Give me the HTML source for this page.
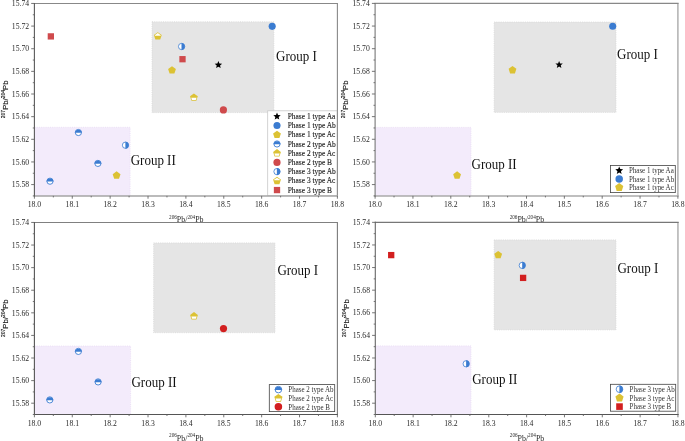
<!DOCTYPE html><html><head><meta charset="utf-8"><title>Pb isotope plots</title><style>
html,body{margin:0;padding:0;background:#fff;}
body{width:685px;height:441px;overflow:hidden;}
svg{display:block;will-change:transform;}
text{font-family:"Liberation Serif",serif;fill:#2a2a2a;}
.tk{font-size:7.7px;}
.grp{font-size:13px;fill:#111;}
.lg{fill:#333;}
.xl{font-size:7.9px;}
.xl .sup{font-size:5.2px;}
.yl{font-family:"Liberation Sans",sans-serif;font-size:7.7px;fill:#1a1a1a;stroke:#1a1a1a;stroke-width:0.15px;}
.yl .ysup{font-size:5px;}
</style></head><body><svg width="685" height="441" viewBox="0 0 685 441"><rect width="685" height="441" fill="#fff"/><clipPath id="clip0"><rect x="34.4" y="3.45" width="303" height="192.45"/></clipPath><rect x="152" y="21.8" width="121.9" height="90.8" fill="#e5e5e5"/><rect x="152" y="21.8" width="121.9" height="90.8" fill="none" stroke="#d6d6d6" stroke-width="0.7" stroke-dasharray="1 1.2"/><g clip-path="url(#clip0)"><rect x="32.4" y="127.3" width="97.7" height="70.6" fill="#f3ebfb"/><rect x="32.4" y="127.3" width="97.7" height="70.6" fill="none" stroke="#e6d8f2" stroke-width="0.7" stroke-dasharray="1 1.2"/></g><text transform="translate(276.1 60.6) scale(1 1.09)" class="grp">Group I</text><text transform="translate(130.7 165.2) scale(1 1.09)" class="grp">Group II</text><rect x="47.7" y="33.25" width="6.3" height="6.3" fill="#cf4a4c"/><path d="M157.8 32.2 L161.7 35.03 L160.21 39.62 L155.39 39.62 L153.9 35.03Z" fill="#dcc234"/><clipPath id="pc1"><rect x="153.7" y="28.1" width="8.2" height="7.7"/></clipPath><path d="M157.8 33.1 L160.84 35.31 L159.68 38.89 L155.92 38.89 L154.76 35.31Z" fill="#fff" clip-path="url(#pc1)"/><circle cx="181.6" cy="46.5" r="3.15" fill="#fff" stroke="#3b7cd1" stroke-width="0.8"/><path d="M181.5 42.96 A3.55 3.55 0 0 1 181.5 50.04 Z" fill="#3b7cd1"/><rect x="179.35" y="56.05" width="6.3" height="6.3" fill="#cf4a4c"/><path d="M172 66.2 L175.9 69.03 L174.41 73.62 L169.59 73.62 L168.1 69.03Z" fill="#dcc234"/><path d="M218.4 61 L219.43 63.48 L222.11 63.69 L220.06 65.44 L220.69 68.06 L218.4 66.65 L216.11 68.06 L216.74 65.44 L214.69 63.69 L217.37 63.48Z" fill="#000"/><circle cx="272.2" cy="26.35" r="3.55" fill="#3b7cd1"/><path d="M193.9 93.4 L197.8 96.23 L196.31 100.82 L191.49 100.82 L190 96.23Z" fill="#dcc234"/><clipPath id="pc2"><rect x="189.8" y="97.8" width="8.2" height="8.2"/></clipPath><path d="M193.9 94.3 L196.94 96.51 L195.78 100.09 L192.02 100.09 L190.86 96.51Z" fill="#fff" clip-path="url(#pc2)"/><circle cx="223.4" cy="109.9" r="3.6" fill="#cf4a4c"/><circle cx="78.4" cy="132.5" r="3.1" fill="#fff" stroke="#3b7cd1" stroke-width="0.9"/><path d="M74.89 132.85 A3.55 3.55 0 0 1 81.91 132.85 Z" fill="#3b7cd1"/><circle cx="97.9" cy="163.4" r="3.1" fill="#fff" stroke="#3b7cd1" stroke-width="0.9"/><path d="M94.39 163.75 A3.55 3.55 0 0 1 101.41 163.75 Z" fill="#3b7cd1"/><circle cx="50" cy="181.2" r="3.1" fill="#fff" stroke="#3b7cd1" stroke-width="0.9"/><path d="M46.49 181.55 A3.55 3.55 0 0 1 53.51 181.55 Z" fill="#3b7cd1"/><circle cx="125.5" cy="145.2" r="3.15" fill="#fff" stroke="#3b7cd1" stroke-width="0.8"/><path d="M125.4 141.66 A3.55 3.55 0 0 1 125.4 148.74 Z" fill="#3b7cd1"/><path d="M116.6 171.3 L120.5 174.13 L119.01 178.72 L114.19 178.72 L112.7 174.13Z" fill="#dcc234"/><g clip-path="url(#clip0)"><rect x="267.7" y="110.8" width="69.6" height="85" fill="#fff" stroke="#c8c8c8" stroke-width="0.8"/><path d="M277 112.5 L278.03 114.98 L280.71 115.19 L278.66 116.94 L279.29 119.56 L277 118.15 L274.71 119.56 L275.34 116.94 L273.29 115.19 L275.97 114.98Z" fill="#000"/><text transform="translate(287.7 118.91) scale(1 1.06)" class="lg" style="font-size:7.45px;stroke:#222;stroke-width:0.12px;fill:#222">Phase 1 type Aa</text><circle cx="277" cy="125.52" r="3.55" fill="#3b7cd1"/><text transform="translate(287.7 128.13) scale(1 1.06)" class="lg" style="font-size:7.45px;stroke:#222;stroke-width:0.12px;fill:#222">Phase 1 type Ab</text><path d="M277 130.64 L280.9 133.47 L279.41 138.06 L274.59 138.06 L273.1 133.47Z" fill="#dcc234"/><text transform="translate(287.7 137.35) scale(1 1.06)" class="lg" style="font-size:7.45px;stroke:#222;stroke-width:0.12px;fill:#222">Phase 1 type Ac</text><circle cx="277" cy="143.96" r="3.1" fill="#fff" stroke="#3b7cd1" stroke-width="0.9"/><path d="M273.49 144.31 A3.55 3.55 0 0 1 280.51 144.31 Z" fill="#3b7cd1"/><text transform="translate(287.7 146.57) scale(1 1.06)" class="lg" style="font-size:7.45px;stroke:#222;stroke-width:0.12px;fill:#222">Phase 2 type Ab</text><path d="M277 149.08 L280.9 151.91 L279.41 156.5 L274.59 156.5 L273.1 151.91Z" fill="#dcc234"/><clipPath id="pc3"><rect x="272.9" y="153.48" width="8.2" height="8.2"/></clipPath><path d="M277 149.98 L280.04 152.19 L278.88 155.77 L275.12 155.77 L273.96 152.19Z" fill="#fff" clip-path="url(#pc3)"/><text transform="translate(287.7 155.79) scale(1 1.06)" class="lg" style="font-size:7.45px;stroke:#222;stroke-width:0.12px;fill:#222">Phase 2 type Ac</text><circle cx="277" cy="162.4" r="3.6" fill="#cf4a4c"/><text transform="translate(287.7 165.01) scale(1 1.06)" class="lg" style="font-size:7.45px;stroke:#222;stroke-width:0.12px;fill:#222">Phase 2 type B</text><circle cx="277" cy="171.62" r="3.15" fill="#fff" stroke="#3b7cd1" stroke-width="0.8"/><path d="M276.9 168.08 A3.55 3.55 0 0 1 276.9 175.16 Z" fill="#3b7cd1"/><text transform="translate(287.7 174.23) scale(1 1.06)" class="lg" style="font-size:7.45px;stroke:#222;stroke-width:0.12px;fill:#222">Phase 3 type Ab</text><path d="M277 176.74 L280.9 179.57 L279.41 184.16 L274.59 184.16 L273.1 179.57Z" fill="#dcc234"/><clipPath id="pc4"><rect x="272.9" y="172.64" width="8.2" height="7.7"/></clipPath><path d="M277 177.64 L280.04 179.85 L278.88 183.43 L275.12 183.43 L273.96 179.85Z" fill="#fff" clip-path="url(#pc4)"/><text transform="translate(287.7 183.45) scale(1 1.06)" class="lg" style="font-size:7.45px;stroke:#222;stroke-width:0.12px;fill:#222">Phase 3 type Ac</text><rect x="273.85" y="186.91" width="6.3" height="6.3" fill="#cf4a4c"/><text transform="translate(287.7 192.67) scale(1 1.06)" class="lg" style="font-size:7.45px;stroke:#222;stroke-width:0.12px;fill:#222">Phase 3 type B</text></g><line x1="337.4" y1="3.45" x2="337.4" y2="195.9" stroke="#888" stroke-width="1.1"/><line x1="33.9" y1="3.45" x2="337.95" y2="3.45" stroke="#888" stroke-width="1.1"/><line x1="33.9" y1="195.9" x2="337.95" y2="195.9" stroke="#a5a5a5" stroke-width="1.5"/><line x1="34.4" y1="2.95" x2="34.4" y2="196.4" stroke="#5a5a5a" stroke-width="1.1"/><line x1="34.4" y1="195.9" x2="34.4" y2="198.7" stroke="#666666" stroke-width="0.9"/><text x="34.4" y="207.2" class="tk" text-anchor="middle">18.0</text><line x1="53.34" y1="195.9" x2="53.34" y2="197.4" stroke="#666666" stroke-width="0.9"/><line x1="72.28" y1="195.9" x2="72.28" y2="198.7" stroke="#666666" stroke-width="0.9"/><text x="72.28" y="207.2" class="tk" text-anchor="middle">18.1</text><line x1="91.21" y1="195.9" x2="91.21" y2="197.4" stroke="#666666" stroke-width="0.9"/><line x1="110.15" y1="195.9" x2="110.15" y2="198.7" stroke="#666666" stroke-width="0.9"/><text x="110.15" y="207.2" class="tk" text-anchor="middle">18.2</text><line x1="129.09" y1="195.9" x2="129.09" y2="197.4" stroke="#666666" stroke-width="0.9"/><line x1="148.03" y1="195.9" x2="148.03" y2="198.7" stroke="#666666" stroke-width="0.9"/><text x="148.03" y="207.2" class="tk" text-anchor="middle">18.3</text><line x1="166.96" y1="195.9" x2="166.96" y2="197.4" stroke="#666666" stroke-width="0.9"/><line x1="185.9" y1="195.9" x2="185.9" y2="198.7" stroke="#666666" stroke-width="0.9"/><text x="185.9" y="207.2" class="tk" text-anchor="middle">18.4</text><line x1="204.84" y1="195.9" x2="204.84" y2="197.4" stroke="#666666" stroke-width="0.9"/><line x1="223.78" y1="195.9" x2="223.78" y2="198.7" stroke="#666666" stroke-width="0.9"/><text x="223.78" y="207.2" class="tk" text-anchor="middle">18.5</text><line x1="242.71" y1="195.9" x2="242.71" y2="197.4" stroke="#666666" stroke-width="0.9"/><line x1="261.65" y1="195.9" x2="261.65" y2="198.7" stroke="#666666" stroke-width="0.9"/><text x="261.65" y="207.2" class="tk" text-anchor="middle">18.6</text><line x1="280.59" y1="195.9" x2="280.59" y2="197.4" stroke="#666666" stroke-width="0.9"/><line x1="299.52" y1="195.9" x2="299.52" y2="198.7" stroke="#666666" stroke-width="0.9"/><text x="299.52" y="207.2" class="tk" text-anchor="middle">18.7</text><line x1="318.46" y1="195.9" x2="318.46" y2="197.4" stroke="#666666" stroke-width="0.9"/><line x1="337.4" y1="195.9" x2="337.4" y2="198.7" stroke="#666666" stroke-width="0.9"/><text x="337.4" y="207.2" class="tk" text-anchor="middle">18.8</text><line x1="32.8" y1="195.9" x2="34.4" y2="195.9" stroke="#666666" stroke-width="0.9"/><line x1="31.2" y1="184.58" x2="34.4" y2="184.58" stroke="#666666" stroke-width="0.9"/><text x="29.1" y="187.28" class="tk" text-anchor="end">15.58</text><line x1="32.8" y1="173.26" x2="34.4" y2="173.26" stroke="#666666" stroke-width="0.9"/><line x1="31.2" y1="161.94" x2="34.4" y2="161.94" stroke="#666666" stroke-width="0.9"/><text x="29.1" y="164.64" class="tk" text-anchor="end">15.60</text><line x1="32.8" y1="150.62" x2="34.4" y2="150.62" stroke="#666666" stroke-width="0.9"/><line x1="31.2" y1="139.3" x2="34.4" y2="139.3" stroke="#666666" stroke-width="0.9"/><text x="29.1" y="142" class="tk" text-anchor="end">15.62</text><line x1="32.8" y1="127.98" x2="34.4" y2="127.98" stroke="#666666" stroke-width="0.9"/><line x1="31.2" y1="116.66" x2="34.4" y2="116.66" stroke="#666666" stroke-width="0.9"/><text x="29.1" y="119.36" class="tk" text-anchor="end">15.64</text><line x1="32.8" y1="105.34" x2="34.4" y2="105.34" stroke="#666666" stroke-width="0.9"/><line x1="31.2" y1="94.01" x2="34.4" y2="94.01" stroke="#666666" stroke-width="0.9"/><text x="29.1" y="96.71" class="tk" text-anchor="end">15.66</text><line x1="32.8" y1="82.69" x2="34.4" y2="82.69" stroke="#666666" stroke-width="0.9"/><line x1="31.2" y1="71.37" x2="34.4" y2="71.37" stroke="#666666" stroke-width="0.9"/><text x="29.1" y="74.07" class="tk" text-anchor="end">15.68</text><line x1="32.8" y1="60.05" x2="34.4" y2="60.05" stroke="#666666" stroke-width="0.9"/><line x1="31.2" y1="48.73" x2="34.4" y2="48.73" stroke="#666666" stroke-width="0.9"/><text x="29.1" y="51.43" class="tk" text-anchor="end">15.70</text><line x1="32.8" y1="37.41" x2="34.4" y2="37.41" stroke="#666666" stroke-width="0.9"/><line x1="31.2" y1="26.09" x2="34.4" y2="26.09" stroke="#666666" stroke-width="0.9"/><text x="29.1" y="28.79" class="tk" text-anchor="end">15.72</text><line x1="32.8" y1="14.77" x2="34.4" y2="14.77" stroke="#666666" stroke-width="0.9"/><line x1="31.2" y1="3.45" x2="34.4" y2="3.45" stroke="#666666" stroke-width="0.9"/><text x="29.1" y="6.15" class="tk" text-anchor="end">15.74</text><text x="186.3" y="221.9" class="xl" text-anchor="middle"><tspan class="sup" dy="-3.2">206</tspan><tspan dy="3.2">Pb/</tspan><tspan class="sup" dy="-3.2">204</tspan><tspan dy="3.2">Pb</tspan></text><text transform="translate(7.75 99.38) rotate(-90)" class="yl" text-anchor="middle"><tspan class="ysup" dy="-3">207</tspan><tspan dy="3">Pb/</tspan><tspan class="ysup" dy="-3">204</tspan><tspan dy="3">Pb</tspan></text><clipPath id="clip1"><rect x="375.1" y="3.4" width="302.8" height="192.5"/></clipPath><rect x="494.1" y="22" width="121.9" height="90.4" fill="#e5e5e5"/><rect x="494.1" y="22" width="121.9" height="90.4" fill="none" stroke="#d6d6d6" stroke-width="0.7" stroke-dasharray="1 1.2"/><g clip-path="url(#clip1)"><rect x="373.1" y="127.4" width="97.9" height="70.5" fill="#f3ebfb"/><rect x="373.1" y="127.4" width="97.9" height="70.5" fill="none" stroke="#e6d8f2" stroke-width="0.7" stroke-dasharray="1 1.2"/></g><text transform="translate(617 59.3) scale(1 1.05)" class="grp">Group I</text><text transform="translate(471.6 168.8) scale(1 1.05)" class="grp">Group II</text><path d="M559.1 60.9 L560.13 63.38 L562.81 63.59 L560.76 65.34 L561.39 67.96 L559.1 66.55 L556.81 67.96 L557.44 65.34 L555.39 63.59 L558.07 63.38Z" fill="#000"/><circle cx="612.7" cy="26.3" r="3.55" fill="#3b7cd1"/><path d="M512.5 66 L516.4 68.83 L514.91 73.42 L510.09 73.42 L508.6 68.83Z" fill="#dcc234"/><path d="M457.1 171.3 L461 174.13 L459.51 178.72 L454.69 178.72 L453.2 174.13Z" fill="#dcc234"/><g clip-path="url(#clip1)"><rect x="610.5" y="165.5" width="64.8" height="27.1" fill="#fff" stroke="#444444" stroke-width="0.8"/><path d="M619.2 166.5 L620.28 169.11 L623.09 169.33 L620.95 171.17 L621.61 173.91 L619.2 172.44 L616.79 173.91 L617.45 171.17 L615.31 169.33 L618.12 169.11Z" fill="#000"/><text transform="translate(628.9 173.27) scale(1 1.2)" class="lg" style="font-size:7px;">Phase 1 type Aa</text><circle cx="619.2" cy="178.95" r="3.73" fill="#3b7cd1"/><text transform="translate(628.9 181.72) scale(1 1.2)" class="lg" style="font-size:7px;">Phase 1 type Ab</text><path d="M619.2 183.09 L623.29 186.07 L621.73 190.88 L616.67 190.88 L615.11 186.07Z" fill="#dcc234"/><text transform="translate(628.9 190.17) scale(1 1.2)" class="lg" style="font-size:7px;">Phase 1 type Ac</text></g><line x1="677.9" y1="3.4" x2="677.9" y2="195.9" stroke="#b0b0b0" stroke-width="1.5"/><line x1="374.6" y1="3.4" x2="678.65" y2="3.4" stroke="#888" stroke-width="1.1"/><line x1="374.6" y1="195.9" x2="678.65" y2="195.9" stroke="#aaa" stroke-width="1.5"/><line x1="375.1" y1="2.9" x2="375.1" y2="196.4" stroke="#777" stroke-width="1.1"/><line x1="375.1" y1="195.9" x2="375.1" y2="198.7" stroke="#666666" stroke-width="0.9"/><text x="375.1" y="207.2" class="tk" text-anchor="middle">18.0</text><line x1="394.03" y1="195.9" x2="394.03" y2="197.4" stroke="#666666" stroke-width="0.9"/><line x1="412.95" y1="195.9" x2="412.95" y2="198.7" stroke="#666666" stroke-width="0.9"/><text x="412.95" y="207.2" class="tk" text-anchor="middle">18.1</text><line x1="431.87" y1="195.9" x2="431.87" y2="197.4" stroke="#666666" stroke-width="0.9"/><line x1="450.8" y1="195.9" x2="450.8" y2="198.7" stroke="#666666" stroke-width="0.9"/><text x="450.8" y="207.2" class="tk" text-anchor="middle">18.2</text><line x1="469.73" y1="195.9" x2="469.73" y2="197.4" stroke="#666666" stroke-width="0.9"/><line x1="488.65" y1="195.9" x2="488.65" y2="198.7" stroke="#666666" stroke-width="0.9"/><text x="488.65" y="207.2" class="tk" text-anchor="middle">18.3</text><line x1="507.58" y1="195.9" x2="507.58" y2="197.4" stroke="#666666" stroke-width="0.9"/><line x1="526.5" y1="195.9" x2="526.5" y2="198.7" stroke="#666666" stroke-width="0.9"/><text x="526.5" y="207.2" class="tk" text-anchor="middle">18.4</text><line x1="545.42" y1="195.9" x2="545.42" y2="197.4" stroke="#666666" stroke-width="0.9"/><line x1="564.35" y1="195.9" x2="564.35" y2="198.7" stroke="#666666" stroke-width="0.9"/><text x="564.35" y="207.2" class="tk" text-anchor="middle">18.5</text><line x1="583.28" y1="195.9" x2="583.28" y2="197.4" stroke="#666666" stroke-width="0.9"/><line x1="602.2" y1="195.9" x2="602.2" y2="198.7" stroke="#666666" stroke-width="0.9"/><text x="602.2" y="207.2" class="tk" text-anchor="middle">18.6</text><line x1="621.12" y1="195.9" x2="621.12" y2="197.4" stroke="#666666" stroke-width="0.9"/><line x1="640.05" y1="195.9" x2="640.05" y2="198.7" stroke="#666666" stroke-width="0.9"/><text x="640.05" y="207.2" class="tk" text-anchor="middle">18.7</text><line x1="658.97" y1="195.9" x2="658.97" y2="197.4" stroke="#666666" stroke-width="0.9"/><line x1="677.9" y1="195.9" x2="677.9" y2="198.7" stroke="#666666" stroke-width="0.9"/><text x="677.9" y="207.2" class="tk" text-anchor="middle">18.8</text><line x1="373.5" y1="195.9" x2="375.1" y2="195.9" stroke="#666666" stroke-width="0.9"/><line x1="371.9" y1="184.58" x2="375.1" y2="184.58" stroke="#666666" stroke-width="0.9"/><text x="369.8" y="187.28" class="tk" text-anchor="end">15.58</text><line x1="373.5" y1="173.25" x2="375.1" y2="173.25" stroke="#666666" stroke-width="0.9"/><line x1="371.9" y1="161.93" x2="375.1" y2="161.93" stroke="#666666" stroke-width="0.9"/><text x="369.8" y="164.63" class="tk" text-anchor="end">15.60</text><line x1="373.5" y1="150.61" x2="375.1" y2="150.61" stroke="#666666" stroke-width="0.9"/><line x1="371.9" y1="139.28" x2="375.1" y2="139.28" stroke="#666666" stroke-width="0.9"/><text x="369.8" y="141.98" class="tk" text-anchor="end">15.62</text><line x1="373.5" y1="127.96" x2="375.1" y2="127.96" stroke="#666666" stroke-width="0.9"/><line x1="371.9" y1="116.64" x2="375.1" y2="116.64" stroke="#666666" stroke-width="0.9"/><text x="369.8" y="119.34" class="tk" text-anchor="end">15.64</text><line x1="373.5" y1="105.31" x2="375.1" y2="105.31" stroke="#666666" stroke-width="0.9"/><line x1="371.9" y1="93.99" x2="375.1" y2="93.99" stroke="#666666" stroke-width="0.9"/><text x="369.8" y="96.69" class="tk" text-anchor="end">15.66</text><line x1="373.5" y1="82.66" x2="375.1" y2="82.66" stroke="#666666" stroke-width="0.9"/><line x1="371.9" y1="71.34" x2="375.1" y2="71.34" stroke="#666666" stroke-width="0.9"/><text x="369.8" y="74.04" class="tk" text-anchor="end">15.68</text><line x1="373.5" y1="60.02" x2="375.1" y2="60.02" stroke="#666666" stroke-width="0.9"/><line x1="371.9" y1="48.69" x2="375.1" y2="48.69" stroke="#666666" stroke-width="0.9"/><text x="369.8" y="51.39" class="tk" text-anchor="end">15.70</text><line x1="373.5" y1="37.37" x2="375.1" y2="37.37" stroke="#666666" stroke-width="0.9"/><line x1="371.9" y1="26.05" x2="375.1" y2="26.05" stroke="#666666" stroke-width="0.9"/><text x="369.8" y="28.75" class="tk" text-anchor="end">15.72</text><line x1="373.5" y1="14.72" x2="375.1" y2="14.72" stroke="#666666" stroke-width="0.9"/><line x1="371.9" y1="3.4" x2="375.1" y2="3.4" stroke="#666666" stroke-width="0.9"/><text x="369.8" y="6.1" class="tk" text-anchor="end">15.74</text><text x="526.9" y="221.9" class="xl" text-anchor="middle"><tspan class="sup" dy="-3.2">206</tspan><tspan dy="3.2">Pb/</tspan><tspan class="sup" dy="-3.2">204</tspan><tspan dy="3.2">Pb</tspan></text><text transform="translate(348.45 99.35) rotate(-90)" class="yl" text-anchor="middle"><tspan class="ysup" dy="-3">207</tspan><tspan dy="3">Pb/</tspan><tspan class="ysup" dy="-3">204</tspan><tspan dy="3">Pb</tspan></text><rect x="0" y="222.2" width="685" height="220" fill="#fff"/><clipPath id="clip2"><rect x="34.4" y="222.45" width="303" height="192.05"/></clipPath><rect x="153.6" y="242.9" width="121.4" height="89.8" fill="#e5e5e5"/><rect x="153.6" y="242.9" width="121.4" height="89.8" fill="none" stroke="#d6d6d6" stroke-width="0.7" stroke-dasharray="1 1.2"/><g clip-path="url(#clip2)"><rect x="32.4" y="346" width="98.2" height="70.5" fill="#f3ebfb"/><rect x="32.4" y="346" width="98.2" height="70.5" fill="none" stroke="#e6d8f2" stroke-width="0.7" stroke-dasharray="1 1.2"/></g><text transform="translate(277.4 275) scale(1 1.09)" class="grp">Group I</text><text transform="translate(131.5 387) scale(1 1.09)" class="grp">Group II</text><circle cx="78.4" cy="351.4" r="3.1" fill="#fff" stroke="#3b7cd1" stroke-width="0.9"/><path d="M74.89 351.75 A3.55 3.55 0 0 1 81.91 351.75 Z" fill="#3b7cd1"/><circle cx="98.1" cy="381.9" r="3.1" fill="#fff" stroke="#3b7cd1" stroke-width="0.9"/><path d="M94.59 382.25 A3.55 3.55 0 0 1 101.61 382.25 Z" fill="#3b7cd1"/><circle cx="49.8" cy="399.9" r="3.1" fill="#fff" stroke="#3b7cd1" stroke-width="0.9"/><path d="M46.29 400.25 A3.55 3.55 0 0 1 53.31 400.25 Z" fill="#3b7cd1"/><path d="M194 312.1 L197.9 314.93 L196.41 319.52 L191.59 319.52 L190.1 314.93Z" fill="#dcc234"/><clipPath id="pc5"><rect x="189.9" y="316.5" width="8.2" height="8.2"/></clipPath><path d="M194 313 L197.04 315.21 L195.88 318.79 L192.12 318.79 L190.96 315.21Z" fill="#fff" clip-path="url(#pc5)"/><circle cx="223.5" cy="328.6" r="3.6" fill="#d21f1f"/><g clip-path="url(#clip2)"><rect x="269.3" y="384.6" width="65.4" height="27" fill="#fff" stroke="#444444" stroke-width="0.8"/><circle cx="278.4" cy="389.6" r="3.28" fill="#fff" stroke="#3b7cd1" stroke-width="0.9"/><path d="M274.71 389.95 A3.73 3.73 0 0 1 282.09 389.95 Z" fill="#3b7cd1"/><text transform="translate(288.3 392.37) scale(1 1.2)" class="lg" style="font-size:7px;">Phase 2 type Ab</text><path d="M278.4 393.9 L282.49 396.87 L280.93 401.68 L275.87 401.68 L274.31 396.87Z" fill="#dcc234"/><clipPath id="pc6"><rect x="274.09" y="398.5" width="8.61" height="8.61"/></clipPath><path d="M278.4 394.8 L281.64 397.15 L280.4 400.95 L276.4 400.95 L275.16 397.15Z" fill="#fff" clip-path="url(#pc6)"/><text transform="translate(288.3 400.97) scale(1 1.2)" class="lg" style="font-size:7px;">Phase 2 type Ac</text><circle cx="278.4" cy="406.8" r="3.78" fill="#d21f1f"/><text transform="translate(288.3 409.57) scale(1 1.2)" class="lg" style="font-size:7px;">Phase 2 type B</text></g><line x1="337.4" y1="222.45" x2="337.4" y2="414.5" stroke="#7a7a7a" stroke-width="1.1"/><line x1="33.9" y1="222.45" x2="337.95" y2="222.45" stroke="#808080" stroke-width="1.1"/><line x1="33.9" y1="414.5" x2="337.95" y2="414.5" stroke="#555" stroke-width="1.1"/><line x1="34.4" y1="221.95" x2="34.4" y2="415" stroke="#555" stroke-width="1.1"/><line x1="34.4" y1="414.5" x2="34.4" y2="417.3" stroke="#666666" stroke-width="0.9"/><text x="34.4" y="425.8" class="tk" text-anchor="middle">18.0</text><line x1="53.34" y1="414.5" x2="53.34" y2="416" stroke="#666666" stroke-width="0.9"/><line x1="72.28" y1="414.5" x2="72.28" y2="417.3" stroke="#666666" stroke-width="0.9"/><text x="72.28" y="425.8" class="tk" text-anchor="middle">18.1</text><line x1="91.21" y1="414.5" x2="91.21" y2="416" stroke="#666666" stroke-width="0.9"/><line x1="110.15" y1="414.5" x2="110.15" y2="417.3" stroke="#666666" stroke-width="0.9"/><text x="110.15" y="425.8" class="tk" text-anchor="middle">18.2</text><line x1="129.09" y1="414.5" x2="129.09" y2="416" stroke="#666666" stroke-width="0.9"/><line x1="148.03" y1="414.5" x2="148.03" y2="417.3" stroke="#666666" stroke-width="0.9"/><text x="148.03" y="425.8" class="tk" text-anchor="middle">18.3</text><line x1="166.96" y1="414.5" x2="166.96" y2="416" stroke="#666666" stroke-width="0.9"/><line x1="185.9" y1="414.5" x2="185.9" y2="417.3" stroke="#666666" stroke-width="0.9"/><text x="185.9" y="425.8" class="tk" text-anchor="middle">18.4</text><line x1="204.84" y1="414.5" x2="204.84" y2="416" stroke="#666666" stroke-width="0.9"/><line x1="223.78" y1="414.5" x2="223.78" y2="417.3" stroke="#666666" stroke-width="0.9"/><text x="223.78" y="425.8" class="tk" text-anchor="middle">18.5</text><line x1="242.71" y1="414.5" x2="242.71" y2="416" stroke="#666666" stroke-width="0.9"/><line x1="261.65" y1="414.5" x2="261.65" y2="417.3" stroke="#666666" stroke-width="0.9"/><text x="261.65" y="425.8" class="tk" text-anchor="middle">18.6</text><line x1="280.59" y1="414.5" x2="280.59" y2="416" stroke="#666666" stroke-width="0.9"/><line x1="299.52" y1="414.5" x2="299.52" y2="417.3" stroke="#666666" stroke-width="0.9"/><text x="299.52" y="425.8" class="tk" text-anchor="middle">18.7</text><line x1="318.46" y1="414.5" x2="318.46" y2="416" stroke="#666666" stroke-width="0.9"/><line x1="337.4" y1="414.5" x2="337.4" y2="417.3" stroke="#666666" stroke-width="0.9"/><text x="337.4" y="425.8" class="tk" text-anchor="middle">18.8</text><line x1="32.8" y1="414.5" x2="34.4" y2="414.5" stroke="#666666" stroke-width="0.9"/><line x1="31.2" y1="403.2" x2="34.4" y2="403.2" stroke="#666666" stroke-width="0.9"/><text x="29.1" y="405.9" class="tk" text-anchor="end">15.58</text><line x1="32.8" y1="391.91" x2="34.4" y2="391.91" stroke="#666666" stroke-width="0.9"/><line x1="31.2" y1="380.61" x2="34.4" y2="380.61" stroke="#666666" stroke-width="0.9"/><text x="29.1" y="383.31" class="tk" text-anchor="end">15.60</text><line x1="32.8" y1="369.31" x2="34.4" y2="369.31" stroke="#666666" stroke-width="0.9"/><line x1="31.2" y1="358.01" x2="34.4" y2="358.01" stroke="#666666" stroke-width="0.9"/><text x="29.1" y="360.71" class="tk" text-anchor="end">15.62</text><line x1="32.8" y1="346.72" x2="34.4" y2="346.72" stroke="#666666" stroke-width="0.9"/><line x1="31.2" y1="335.42" x2="34.4" y2="335.42" stroke="#666666" stroke-width="0.9"/><text x="29.1" y="338.12" class="tk" text-anchor="end">15.64</text><line x1="32.8" y1="324.12" x2="34.4" y2="324.12" stroke="#666666" stroke-width="0.9"/><line x1="31.2" y1="312.83" x2="34.4" y2="312.83" stroke="#666666" stroke-width="0.9"/><text x="29.1" y="315.53" class="tk" text-anchor="end">15.66</text><line x1="32.8" y1="301.53" x2="34.4" y2="301.53" stroke="#666666" stroke-width="0.9"/><line x1="31.2" y1="290.23" x2="34.4" y2="290.23" stroke="#666666" stroke-width="0.9"/><text x="29.1" y="292.93" class="tk" text-anchor="end">15.68</text><line x1="32.8" y1="278.94" x2="34.4" y2="278.94" stroke="#666666" stroke-width="0.9"/><line x1="31.2" y1="267.64" x2="34.4" y2="267.64" stroke="#666666" stroke-width="0.9"/><text x="29.1" y="270.34" class="tk" text-anchor="end">15.70</text><line x1="32.8" y1="256.34" x2="34.4" y2="256.34" stroke="#666666" stroke-width="0.9"/><line x1="31.2" y1="245.04" x2="34.4" y2="245.04" stroke="#666666" stroke-width="0.9"/><text x="29.1" y="247.74" class="tk" text-anchor="end">15.72</text><line x1="32.8" y1="233.75" x2="34.4" y2="233.75" stroke="#666666" stroke-width="0.9"/><line x1="31.2" y1="222.45" x2="34.4" y2="222.45" stroke="#666666" stroke-width="0.9"/><text x="29.1" y="225.15" class="tk" text-anchor="end">15.74</text><text x="186.3" y="440.5" class="xl" text-anchor="middle"><tspan class="sup" dy="-3.2">206</tspan><tspan dy="3.2">Pb/</tspan><tspan class="sup" dy="-3.2">204</tspan><tspan dy="3.2">Pb</tspan></text><text transform="translate(7.75 318.18) rotate(-90)" class="yl" text-anchor="middle"><tspan class="ysup" dy="-3">207</tspan><tspan dy="3">Pb/</tspan><tspan class="ysup" dy="-3">204</tspan><tspan dy="3">Pb</tspan></text><clipPath id="clip3"><rect x="375.3" y="222.35" width="302.65" height="192.15"/></clipPath><rect x="494.1" y="239.9" width="121.9" height="90" fill="#e5e5e5"/><rect x="494.1" y="239.9" width="121.9" height="90" fill="none" stroke="#d6d6d6" stroke-width="0.7" stroke-dasharray="1 1.2"/><g clip-path="url(#clip3)"><rect x="373.3" y="345.9" width="97.7" height="70.6" fill="#f3ebfb"/><rect x="373.3" y="345.9" width="97.7" height="70.6" fill="none" stroke="#e6d8f2" stroke-width="0.7" stroke-dasharray="1 1.2"/></g><text transform="translate(617.5 273.2) scale(1 1.09)" class="grp">Group I</text><text transform="translate(472.2 383.8) scale(1 1.09)" class="grp">Group II</text><rect x="388.05" y="251.95" width="6.3" height="6.3" fill="#d21f1f"/><path d="M498.2 250.9 L502.1 253.73 L500.61 258.32 L495.79 258.32 L494.3 253.73Z" fill="#dcc234"/><circle cx="522.3" cy="265.4" r="3.15" fill="#fff" stroke="#3b7cd1" stroke-width="0.8"/><path d="M522.2 261.86 A3.55 3.55 0 0 1 522.2 268.94 Z" fill="#3b7cd1"/><rect x="519.95" y="274.75" width="6.3" height="6.3" fill="#d21f1f"/><circle cx="466.2" cy="363.8" r="3.15" fill="#fff" stroke="#3b7cd1" stroke-width="0.8"/><path d="M466.1 360.26 A3.55 3.55 0 0 1 466.1 367.34 Z" fill="#3b7cd1"/><g clip-path="url(#clip3)"><rect x="610.5" y="384.3" width="65.2" height="26.9" fill="#fff" stroke="#444444" stroke-width="0.8"/><circle cx="619.5" cy="389.2" r="3.33" fill="#fff" stroke="#3b7cd1" stroke-width="0.8"/><path d="M619.4 385.48 A3.73 3.73 0 0 1 619.4 392.92 Z" fill="#3b7cd1"/><text transform="translate(629.5 391.97) scale(1 1.2)" class="lg" style="font-size:7px;">Phase 3 type Ab</text><path d="M619.5 393.59 L623.59 396.57 L622.03 401.38 L616.97 401.38 L615.41 396.57Z" fill="#dcc234"/><text transform="translate(629.5 400.67) scale(1 1.2)" class="lg" style="font-size:7px;">Phase 3 type Ac</text><rect x="616.19" y="403.29" width="6.62" height="6.62" fill="#d21f1f"/><text transform="translate(629.5 409.37) scale(1 1.2)" class="lg" style="font-size:7px;">Phase 3 type B</text></g><line x1="677.95" y1="222.35" x2="677.95" y2="414.5" stroke="#b0b0b0" stroke-width="1.5"/><line x1="374.8" y1="222.35" x2="678.7" y2="222.35" stroke="#777" stroke-width="1.1"/><line x1="374.8" y1="414.5" x2="678.7" y2="414.5" stroke="#555" stroke-width="1.1"/><line x1="375.3" y1="221.85" x2="375.3" y2="415" stroke="#666" stroke-width="1.1"/><line x1="375.3" y1="414.5" x2="375.3" y2="417.3" stroke="#666666" stroke-width="0.9"/><text x="375.3" y="425.8" class="tk" text-anchor="middle">18.0</text><line x1="394.22" y1="414.5" x2="394.22" y2="416" stroke="#666666" stroke-width="0.9"/><line x1="413.13" y1="414.5" x2="413.13" y2="417.3" stroke="#666666" stroke-width="0.9"/><text x="413.13" y="425.8" class="tk" text-anchor="middle">18.1</text><line x1="432.05" y1="414.5" x2="432.05" y2="416" stroke="#666666" stroke-width="0.9"/><line x1="450.96" y1="414.5" x2="450.96" y2="417.3" stroke="#666666" stroke-width="0.9"/><text x="450.96" y="425.8" class="tk" text-anchor="middle">18.2</text><line x1="469.88" y1="414.5" x2="469.88" y2="416" stroke="#666666" stroke-width="0.9"/><line x1="488.79" y1="414.5" x2="488.79" y2="417.3" stroke="#666666" stroke-width="0.9"/><text x="488.79" y="425.8" class="tk" text-anchor="middle">18.3</text><line x1="507.71" y1="414.5" x2="507.71" y2="416" stroke="#666666" stroke-width="0.9"/><line x1="526.62" y1="414.5" x2="526.62" y2="417.3" stroke="#666666" stroke-width="0.9"/><text x="526.62" y="425.8" class="tk" text-anchor="middle">18.4</text><line x1="545.54" y1="414.5" x2="545.54" y2="416" stroke="#666666" stroke-width="0.9"/><line x1="564.46" y1="414.5" x2="564.46" y2="417.3" stroke="#666666" stroke-width="0.9"/><text x="564.46" y="425.8" class="tk" text-anchor="middle">18.5</text><line x1="583.37" y1="414.5" x2="583.37" y2="416" stroke="#666666" stroke-width="0.9"/><line x1="602.29" y1="414.5" x2="602.29" y2="417.3" stroke="#666666" stroke-width="0.9"/><text x="602.29" y="425.8" class="tk" text-anchor="middle">18.6</text><line x1="621.2" y1="414.5" x2="621.2" y2="416" stroke="#666666" stroke-width="0.9"/><line x1="640.12" y1="414.5" x2="640.12" y2="417.3" stroke="#666666" stroke-width="0.9"/><text x="640.12" y="425.8" class="tk" text-anchor="middle">18.7</text><line x1="659.03" y1="414.5" x2="659.03" y2="416" stroke="#666666" stroke-width="0.9"/><line x1="677.95" y1="414.5" x2="677.95" y2="417.3" stroke="#666666" stroke-width="0.9"/><text x="677.95" y="425.8" class="tk" text-anchor="middle">18.8</text><line x1="373.7" y1="414.5" x2="375.3" y2="414.5" stroke="#666666" stroke-width="0.9"/><line x1="372.1" y1="403.2" x2="375.3" y2="403.2" stroke="#666666" stroke-width="0.9"/><text x="370" y="405.9" class="tk" text-anchor="end">15.58</text><line x1="373.7" y1="391.89" x2="375.3" y2="391.89" stroke="#666666" stroke-width="0.9"/><line x1="372.1" y1="380.59" x2="375.3" y2="380.59" stroke="#666666" stroke-width="0.9"/><text x="370" y="383.29" class="tk" text-anchor="end">15.60</text><line x1="373.7" y1="369.29" x2="375.3" y2="369.29" stroke="#666666" stroke-width="0.9"/><line x1="372.1" y1="357.99" x2="375.3" y2="357.99" stroke="#666666" stroke-width="0.9"/><text x="370" y="360.69" class="tk" text-anchor="end">15.62</text><line x1="373.7" y1="346.68" x2="375.3" y2="346.68" stroke="#666666" stroke-width="0.9"/><line x1="372.1" y1="335.38" x2="375.3" y2="335.38" stroke="#666666" stroke-width="0.9"/><text x="370" y="338.08" class="tk" text-anchor="end">15.64</text><line x1="373.7" y1="324.08" x2="375.3" y2="324.08" stroke="#666666" stroke-width="0.9"/><line x1="372.1" y1="312.77" x2="375.3" y2="312.77" stroke="#666666" stroke-width="0.9"/><text x="370" y="315.47" class="tk" text-anchor="end">15.66</text><line x1="373.7" y1="301.47" x2="375.3" y2="301.47" stroke="#666666" stroke-width="0.9"/><line x1="372.1" y1="290.17" x2="375.3" y2="290.17" stroke="#666666" stroke-width="0.9"/><text x="370" y="292.87" class="tk" text-anchor="end">15.68</text><line x1="373.7" y1="278.86" x2="375.3" y2="278.86" stroke="#666666" stroke-width="0.9"/><line x1="372.1" y1="267.56" x2="375.3" y2="267.56" stroke="#666666" stroke-width="0.9"/><text x="370" y="270.26" class="tk" text-anchor="end">15.70</text><line x1="373.7" y1="256.26" x2="375.3" y2="256.26" stroke="#666666" stroke-width="0.9"/><line x1="372.1" y1="244.96" x2="375.3" y2="244.96" stroke="#666666" stroke-width="0.9"/><text x="370" y="247.66" class="tk" text-anchor="end">15.72</text><line x1="373.7" y1="233.65" x2="375.3" y2="233.65" stroke="#666666" stroke-width="0.9"/><line x1="372.1" y1="222.35" x2="375.3" y2="222.35" stroke="#666666" stroke-width="0.9"/><text x="370" y="225.05" class="tk" text-anchor="end">15.74</text><text x="527.02" y="440.5" class="xl" text-anchor="middle"><tspan class="sup" dy="-3.2">206</tspan><tspan dy="3.2">Pb/</tspan><tspan class="sup" dy="-3.2">204</tspan><tspan dy="3.2">Pb</tspan></text><text transform="translate(348.65 318.12) rotate(-90)" class="yl" text-anchor="middle"><tspan class="ysup" dy="-3">207</tspan><tspan dy="3">Pb/</tspan><tspan class="ysup" dy="-3">204</tspan><tspan dy="3">Pb</tspan></text></svg></body></html>
